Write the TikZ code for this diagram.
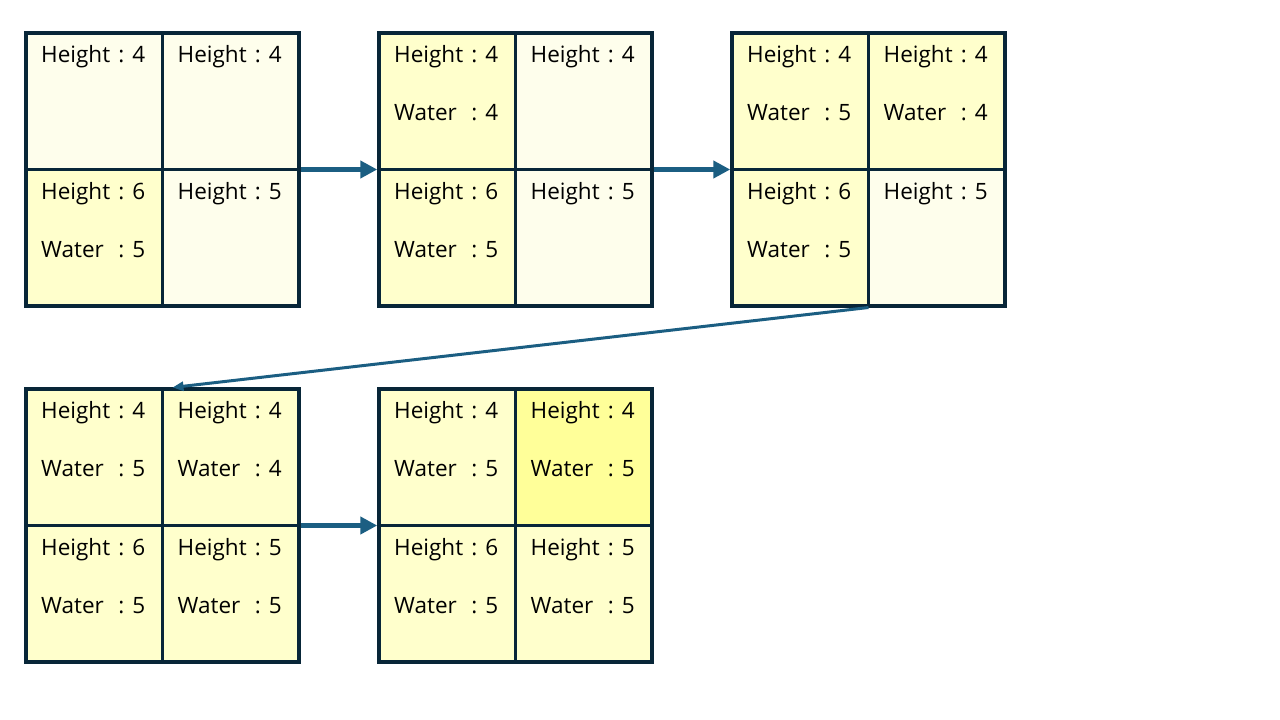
\documentclass[tikz,border=0pt]{standalone}
\usepackage{fontspec}
\setmainfont{Open Sans}
\usetikzlibrary{arrows.meta}
\definecolor{border}{HTML}{082638}
\definecolor{arrowc}{HTML}{1B5E82}
\definecolor{pale}{HTML}{FEFEEC}
\definecolor{yel}{HTML}{FFFFCC}
\definecolor{bright}{HTML}{FFFF99}
\tikzset{
  cellbox/.style={draw=border, line width=3.5bp, rectangle, minimum width=136.5bp, minimum height=136.5bp, inner sep=0pt, outer sep=0pt, anchor=north west},
  celltext/.style={anchor=base west, inner sep=0pt, font=\fontsize{22.5bp}{26bp}\selectfont},
  flow/.style={draw=arrowc, line width=5bp, -{Triangle[length=17bp,width=17bp]}},
  thinflow/.style={draw=arrowc, line width=3bp, -{Triangle[length=11bp,width=9bp]}}
}
\newcommand{\hw}[2]{\begin{tabular}[t]{@{}l@{\hspace{0.36em}}l@{\hspace{0.36em}}l@{}}Height&:&#1\\[32bp]Water&:&#2\end{tabular}}
\newcommand{\ho}[1]{\begin{tabular}[t]{@{}l@{\hspace{0.36em}}l@{\hspace{0.36em}}l@{}}Height&:&#1\end{tabular}}
\newcommand{\mkcell}[5]{%
  \node[cellbox, fill=#4] (#1) at (#2,#3) {};
  \node[celltext] (#1t) at ([shift={(15bp,-29.5bp)}]#1.north west) {#5};
}
\begin{document}
\begin{tikzpicture}[x=1bp,y=-1bp]
\useasboundingbox (0,0) rectangle (1280,720);
% grid 1
\mkcell{ga}{26}{33}{pale}{\ho{4}}
\mkcell{gb}{162.5}{33}{pale}{\ho{4}}
\mkcell{gc}{26}{169.5}{yel}{\hw{6}{5}}
\mkcell{gd}{162.5}{169.5}{pale}{\ho{5}}
% grid 2
\mkcell{ha}{379}{33}{yel}{\hw{4}{4}}
\mkcell{hb}{515.5}{33}{pale}{\ho{4}}
\mkcell{hc}{379}{169.5}{yel}{\hw{6}{5}}
\mkcell{hd}{515.5}{169.5}{pale}{\ho{5}}
% grid 3
\mkcell{ia}{732}{33}{yel}{\hw{4}{5}}
\mkcell{ib}{868.5}{33}{yel}{\hw{4}{4}}
\mkcell{ic}{732}{169.5}{yel}{\hw{6}{5}}
\mkcell{id}{868.5}{169.5}{pale}{\ho{5}}
% grid 4
\mkcell{ja}{26}{389}{yel}{\hw{4}{5}}
\mkcell{jb}{162.5}{389}{yel}{\hw{4}{4}}
\mkcell{jc}{26}{525.5}{yel}{\hw{6}{5}}
\mkcell{jd}{162.5}{525.5}{yel}{\hw{5}{5}}
% grid 5
\mkcell{ka}{379}{389}{yel}{\hw{4}{5}}
\mkcell{kb}{515.5}{389}{bright}{\hw{4}{5}}
\mkcell{kc}{379}{525.5}{yel}{\hw{6}{5}}
\mkcell{kd}{515.5}{525.5}{yel}{\hw{5}{5}}
% arrows
\draw[flow] ([xshift=1.75bp]gb.south east) -- ([xshift=-1.75bp]ha.south west);
\draw[flow] ([xshift=1.75bp]hb.south east) -- ([xshift=-1.75bp]ia.south west);
\draw[flow] ([xshift=1.75bp]jb.south east) -- ([xshift=-1.75bp]ka.south west);
\coordinate (dend) at ([xshift=10bp,yshift=1.5bp]ja.north east);
\draw[thinflow] ([yshift=-1.5bp]id.south west) -- (dend);
\end{tikzpicture}
\end{document}
